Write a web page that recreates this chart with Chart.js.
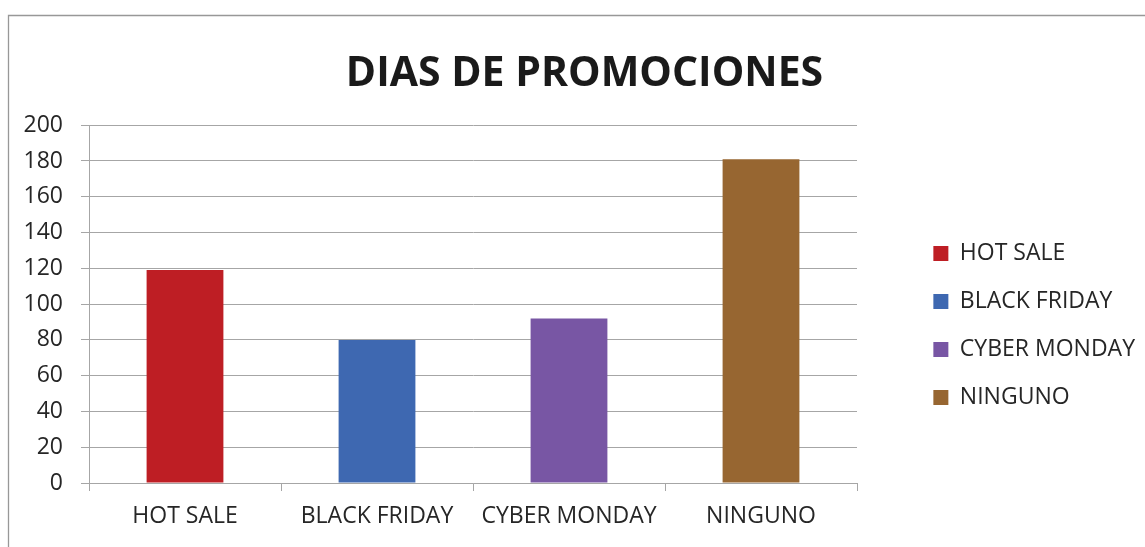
<!DOCTYPE html>
<html>
<head>
<meta charset="utf-8">
<script src="https://cdn.jsdelivr.net/npm/chart.js@4/dist/chart.umd.min.js"></script>
<style>
  html, body { margin: 0; padding: 0; background: #ffffff; }
  #wrap { position: relative; width: 1145px; height: 547px; }
</style>
</head>
<body>
<div id="wrap"><canvas id="c" width="1145" height="547"></canvas></div>
<script>
const chartTitle = 'DIAS DE PROMOCIONES';
const categories = ['HOT SALE', 'BLACK FRIDAY', 'CYBER MONDAY', 'NINGUNO'];
const values = [119, 80, 92, 181];
const barColors = ['#be1e24', '#3e68b1', '#7856a4', '#976631'];
const yTicks = [0, 20, 40, 60, 80, 100, 120, 140, 160, 180, 200];

const FONT = "'Open Sans', 'Liberation Sans', sans-serif";
const GRID = '#a6a6a6';
const TEXT = '#262626';
const PLOT_RIGHT = 857;
const PAD_RIGHT = 0;

const frame = {
  id: 'frame',
  beforeDraw(chart) {
    const ctx = chart.ctx;
    ctx.save();
    ctx.fillStyle = '#ffffff';
    ctx.fillRect(0, 0, chart.width, chart.height);
    ctx.strokeStyle = '#989898';
    ctx.lineWidth = 1.3;
    ctx.beginPath();
    ctx.moveTo(8.5, chart.height);
    ctx.lineTo(8.5, 15.5);
    ctx.lineTo(chart.width, 15.5);
    ctx.stroke();
    ctx.restore();
  }
};

new Chart(document.getElementById('c'), {
  type: 'bar',
  data: {
    labels: categories,
    datasets: [{
      label: chartTitle,
      data: values,
      backgroundColor: barColors,
      borderWidth: 0,
      categoryPercentage: 1,
      barPercentage: 0.4
    }]
  },
  options: {
    responsive: false,
    animation: false,
    events: [],
    layout: { padding: { left: 24, right: PAD_RIGHT, top: 0, bottom: 0 } },
    plugins: {
      tooltip: { enabled: false },
      title: {
        display: true,
        text: chartTitle,
        color: '#1a1a1a',
        font: { family: FONT, size: 41, weight: 'bold' },
        padding: { top: 50, bottom: 26 }
      },
      legend: {
        display: true,
        position: 'right',
        align: 'center',
        title: { display: true, text: '', font: { size: 10 }, padding: { top: 92, bottom: 0 } },
        labels: {
          boxWidth: 15,
          boxHeight: 15,
          padding: 25,
          color: TEXT,
          font: { family: FONT, size: 23 },
          generateLabels(chart) {
            return categories.map((c, i) => ({
              text: c,
              fillStyle: barColors[i],
              strokeStyle: barColors[i],
              fontColor: TEXT,
              lineWidth: 0,
              hidden: false,
              index: i,
              datasetIndex: 0
            }));
          }
        }
      }
    },
    scales: {
      x: {
        grid: { display: true, drawOnChartArea: false, drawTicks: true, tickLength: 8, color: GRID, offset: true },
        border: { display: true, color: GRID, width: 1 },
        ticks: { color: TEXT, font: { family: FONT, size: 23 }, padding: 12, maxRotation: 0, autoSkip: false },
        afterFit(s) { s.height = 64; }
      },
      y: {
        min: 0,
        max: 200,
        afterBuildTicks(s) { s.ticks = yTicks.map(v => ({ value: v })); },
        grid: { color: GRID, lineWidth: 1, drawTicks: true, tickLength: 8 },
        border: { display: true, color: GRID, width: 1 },
        ticks: { color: TEXT, font: { family: FONT, size: 23 }, padding: 18 },
        afterFit(s) { s.width = 65; }
      },
      spacer: {
        position: 'right',
        display: false,
        afterFit(s) {
          const lg = s.chart.legend;
          let w = 51;
          if (lg && lg.width > 0) w = Math.max(0, s.chart.width - PAD_RIGHT - lg.width - PLOT_RIGHT);
          s.width = w;
        }
      }
    }
  },
  plugins: [frame]
});
</script>
</body>
</html>
